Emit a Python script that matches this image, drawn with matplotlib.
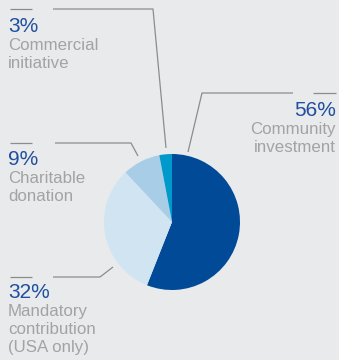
import matplotlib.pyplot as plt

# data
shares = [56, 32, 9, 3]
pct_labels = ["56%", "32%", "9%", "3%"]
names = ["Community\ninvestment", "Mandatory\ncontribution\n(USA only)",
         "Charitable\ndonation", "Commercial\ninitiative"]
colors = ["#004a97", "#d1e4f2", "#a8cde7", "#0099cc"]

bg = "#e9eaec"
line_c = "#8c8c8c"
pct_c = "#1f4f9e"
txt_c = "#a3a3a3"

W, H = 339, 360
fig = plt.figure(figsize=(W / 100, H / 100), dpi=100, facecolor=bg)

# overlay in pixel coordinates
ov = fig.add_axes([0, 0, 1, 1])
ov.set_xlim(0, W)
ov.set_ylim(H, 0)
ov.axis("off")

# pie
cx, cy, r = 172, 222, 68
pax = fig.add_axes([(cx - r) / W, (H - cy - r) / H, 2 * r / W, 2 * r / H])
pax.pie(shares, colors=colors, startangle=90, counterclock=False,
        wedgeprops=dict(linewidth=0))
pax.set_xlim(-1, 1)
pax.set_ylim(-1, 1)

# leader lines (pixel coords)
leaders = [
    [(10, 9), (32, 9)], [(53, 9), (153, 9), (166, 148)],
    [(313, 93), (336, 93)], [(293, 93), (202, 93), (188, 152)],
    [(10, 143), (32, 143)], [(55, 143), (131, 143), (138, 156)],
    [(10, 277), (32, 277)], [(53, 277), (100, 277), (113, 267)],
]
for pts in leaders:
    xs, ys = zip(*pts)
    ov.plot(xs, ys, color=line_c, lw=0.9, solid_capstyle="butt")

# labels: (x, pct baseline, ha, index)
label_pos = [(336, 116, "right", 0), (8, 298, "left", 1),
             (8, 165, "left", 2), (8, 32, "left", 3)]
font = "Liberation Sans"
for x, yb, ha, i in label_pos:
    ov.text(x, yb, pct_labels[i], color=pct_c, fontsize=15, ha=ha,
            va="baseline", family=font)
    for j, ln in enumerate(names[i].split("\n")):
        ov.text(x, yb + 18 * (j + 1), ln, color=txt_c, fontsize=12.2,
                ha=ha, va="baseline", family=font)

fig.savefig("out.png", dpi=100, facecolor=bg)
